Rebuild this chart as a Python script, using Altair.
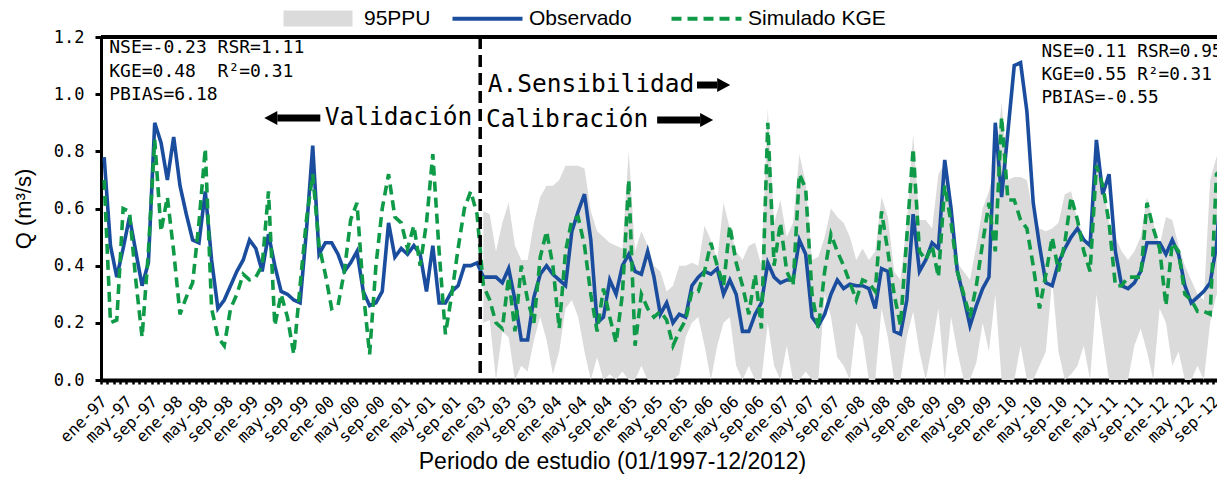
import altair as alt
import pandas as pd

# ---------------- data ----------------
anios = [1997, 1998, 1999, 2000, 2001, 2003, 2004, 2005, 2006, 2007, 2008, 2009, 2010, 2011, 2012]
meses = ["ene", "feb", "mar", "abr", "may", "jun", "jul", "ago", "sep", "oct", "nov", "dic"]
periodos = [f"{m}-{a % 100:02d}" for a in anios for m in meses]
etiquetas = periodos[::4]

observado = [
    0.78, 0.47, 0.36, 0.46, 0.57, 0.45, 0.33, 0.41, 0.90, 0.83,
    0.70, 0.85, 0.68, 0.58, 0.49, 0.48, 0.66, 0.42, 0.25, 0.28,
    0.33, 0.38, 0.42, 0.49, 0.46, 0.38, 0.51, 0.40, 0.31, 0.30,
    0.28, 0.27, 0.52, 0.82, 0.44, 0.48, 0.48, 0.44, 0.38, 0.41,
    0.45, 0.31, 0.26, 0.27, 0.31, 0.55, 0.43, 0.46, 0.44, 0.47,
    0.44, 0.31, 0.47, 0.27, 0.27, 0.31, 0.33, 0.40, 0.40, 0.41,
    0.36, 0.36, 0.36, 0.34, 0.39, 0.28, 0.14, 0.14, 0.29, 0.37,
    0.40, 0.37, 0.35, 0.33, 0.52, 0.59, 0.65, 0.49, 0.20, 0.22,
    0.35, 0.30, 0.40, 0.44, 0.38, 0.37, 0.45, 0.36, 0.23, 0.27,
    0.20, 0.23, 0.22, 0.33, 0.36, 0.38, 0.37, 0.39, 0.30, 0.35,
    0.30, 0.17, 0.17, 0.23, 0.27, 0.41, 0.36, 0.34, 0.35, 0.35,
    0.49, 0.44, 0.22, 0.19, 0.23, 0.30, 0.35, 0.32, 0.335, 0.33,
    0.33, 0.32, 0.25, 0.39, 0.38, 0.17, 0.16, 0.28, 0.58, 0.38,
    0.42, 0.48, 0.46, 0.77, 0.60, 0.38, 0.29, 0.19, 0.26, 0.32,
    0.36, 0.90, 0.64, 0.87, 1.10, 1.11, 0.94, 0.62, 0.47, 0.34,
    0.33, 0.41, 0.46, 0.50, 0.53, 0.49, 0.47, 0.84, 0.65, 0.72,
    0.45, 0.33, 0.32, 0.34, 0.38, 0.48, 0.48, 0.48, 0.44, 0.49,
    0.44, 0.33, 0.27, 0.29, 0.31, 0.34, 0.47, 0.78, 0.45, 0.40,
]

simulado = [
    0.70, 0.20, 0.21, 0.60, 0.59, 0.35, 0.15, 0.45, 0.84, 0.52,
    0.64, 0.45, 0.23, 0.29, 0.34, 0.55, 0.81, 0.25, 0.15, 0.12,
    0.25, 0.30, 0.37, 0.35, 0.36, 0.40, 0.66, 0.19, 0.30, 0.22,
    0.09, 0.33, 0.56, 0.72, 0.47, 0.37, 0.25, 0.26, 0.38, 0.56,
    0.62, 0.31, 0.09, 0.40, 0.60, 0.72, 0.57, 0.55, 0.46, 0.54,
    0.40, 0.55, 0.79, 0.45, 0.16, 0.30, 0.46, 0.60, 0.66, 0.58,
    0.33, 0.28, 0.20, 0.18, 0.36, 0.17, 0.40, 0.28, 0.20, 0.43,
    0.52, 0.40, 0.18, 0.45, 0.56, 0.57, 0.47, 0.30, 0.17, 0.32,
    0.22, 0.13, 0.30, 0.70, 0.12, 0.30, 0.25, 0.22, 0.24, 0.21,
    0.12, 0.17, 0.21, 0.31, 0.31, 0.38, 0.48, 0.40, 0.33, 0.54,
    0.41, 0.33, 0.23, 0.37, 0.18, 0.90, 0.40, 0.55, 0.38, 0.33,
    0.72, 0.67, 0.30, 0.18, 0.38, 0.51, 0.45, 0.40, 0.34, 0.28,
    0.35, 0.34, 0.31, 0.59, 0.45, 0.30, 0.19, 0.50, 0.81, 0.45,
    0.42, 0.47, 0.36, 0.68, 0.55, 0.38, 0.30, 0.22, 0.33, 0.48,
    0.62, 0.45, 0.92, 0.63, 0.63, 0.56, 0.53, 0.40, 0.25, 0.37,
    0.50, 0.38, 0.48, 0.64, 0.56, 0.45, 0.38, 0.75, 0.68, 0.55,
    0.33, 0.33, 0.36, 0.36, 0.36, 0.62, 0.53, 0.46, 0.26, 0.48,
    0.45, 0.30, 0.28, 0.24, 0.24, 0.23, 0.72, 0.74, 0.62, 0.55,
]

# 95PPU band, calibration period only (ene-03 .. dic-12)
ppu_sup = [
    0.59, 0.58, 0.45, 0.55, 0.62, 0.47, 0.42, 0.42, 0.55, 0.64,
    0.68, 0.68, 0.70, 0.75, 0.75, 0.75, 0.74, 0.59, 0.52, 0.50,
    0.48, 0.47, 0.46, 0.80, 0.45, 0.52, 0.47, 0.40, 0.38, 0.31,
    0.33, 0.40, 0.40, 0.41, 0.40, 0.54, 0.49, 0.42, 0.62, 0.53,
    0.45, 0.42, 0.47, 0.48, 0.40, 0.95, 0.55, 0.63, 0.50, 0.55,
    0.79, 0.69, 0.42, 0.43, 0.50, 0.60, 0.57, 0.55, 0.50, 0.42,
    0.46, 0.42, 0.45, 0.64, 0.57, 0.38, 0.35, 0.55, 0.86, 0.56,
    0.56, 0.53, 0.72, 0.76, 0.60, 0.41, 0.38, 0.35, 0.47, 0.60,
    0.66, 0.75, 0.97, 0.70, 0.71, 0.71, 0.70, 0.58, 0.53, 0.52,
    0.53, 0.55, 0.65, 0.66, 0.56, 0.50, 0.47, 0.80, 0.70, 0.55,
    0.50, 0.45, 0.42, 0.45, 0.50, 0.64, 0.55, 0.47, 0.57, 0.56,
    0.47, 0.40, 0.35, 0.30, 0.28, 0.70, 0.78, 0.78, 0.74, 0.70,
]
ppu_inf = [
    0.20, 0.21, 0.00, 0.17, 0.15, 0.00, 0.05, 0.03, 0.14, 0.22,
    0.14, 0.02, 0.10, 0.25, 0.28, 0.22, 0.10, 0.00, 0.08, 0.00,
    0.02, 0.00, 0.03, 0.00, 0.00, 0.05, 0.00, 0.00, 0.00, 0.00,
    0.00, 0.02, 0.15, 0.20, 0.22, 0.12, 0.00, 0.12, 0.20, 0.22,
    0.05, 0.00, 0.05, 0.00, 0.00, 0.20, 0.05, 0.00, 0.12, 0.00,
    0.00, 0.03, 0.00, 0.00, 0.30, 0.22, 0.08, 0.05, 0.00, 0.20,
    0.15, 0.00, 0.00, 0.25, 0.15, 0.00, 0.00, 0.15, 0.24, 0.10,
    0.00, 0.12, 0.25, 0.00, 0.22, 0.10, 0.00, 0.00, 0.06, 0.20,
    0.10, 0.30, 0.00, 0.00, 0.00, 0.12, 0.00, 0.00, 0.05, 0.10,
    0.35, 0.10, 0.00, 0.02, 0.05, 0.12, 0.00, 0.30, 0.15, 0.00,
    0.00, 0.00, 0.00, 0.12, 0.18, 0.10, 0.00, 0.25, 0.20, 0.05,
    0.10, 0.00, 0.00, 0.05, 0.00, 0.20, 0.30, 0.20, 0.05, 0.05,
]

color_banda = "#dcdbdc"
series_lineas = ["Observado", "Simulado KGE"]
colores_lineas = ["#1b4d9e", "#0f9a48"]
trazos_lineas = [[100, 0], [10, 6]]

est_val_texto = ["NSE=-0.23 RSR=1.11", "KGE=0.48 \u00a0R\u00b2=0.31", "PBIAS=6.18"]
est_val_t = [1.3, 1.3, 1.3]
est_val_q = [1.160, 1.078, 0.997]
est_cal_texto = ["NSE=0.11 RSR=0.95", "KGE=0.55 R\u00b2=0.31", "PBIAS=-0.55"]
est_cal_t = [148.8, 148.8, 148.8]
est_cal_q = [1.148, 1.067, 0.987]

fases_texto = ["Validaci\u00f3n", "A.Sensibilidad", "Calibraci\u00f3n"]
fases_t = [35.4, 61.2, 60.9]
fases_q = [0.917, 1.032, 0.910]

# arrows: tail, head base, height, direction
flecha_cola = [34.7, 94.3, 88.0]
flecha_base = [27.9, 97.5, 94.8]
flecha_q = [0.917, 1.032, 0.910]
flecha_dir = ["izq", "der", "der"]

n_cal = 60          # first month of the calibration period (ene-03)
x_max = 176.58      # visible part of the time axis (the figure is cut at the right)

# ---------------- tables ----------------
n = len(periodos)
t = [i + 0.5 for i in range(n)]
lin_df = pd.concat([
    pd.DataFrame({"t": t, "q": observado, "serie": "Observado", "periodo": periodos}),
    pd.DataFrame({"t": t, "q": simulado, "serie": "Simulado KGE", "periodo": periodos}),
])
ppu_df = pd.DataFrame({"t": t[n_cal:], "lo": ppu_inf, "hi": ppu_sup, "serie": "95PPU"})
estv_df = pd.DataFrame({"t": est_val_t, "q": est_val_q, "texto": est_val_texto})
estc_df = pd.DataFrame({"t": est_cal_t, "q": est_cal_q, "texto": est_cal_texto})
fas_df = pd.DataFrame({"t": fases_t, "q": fases_q, "texto": fases_texto})
fle_df = pd.DataFrame({"t0": flecha_cola, "t1": flecha_base, "q": flecha_q, "dir": flecha_dir})

XS = alt.Scale(domain=[0, x_max], nice=False, zero=False)
YS = alt.Scale(domain=[0, 1.2], nice=False)

js_labels = "[" + ",".join(f"'{e}'" for e in etiquetas) + "]"
xaxis = alt.Axis(
    values=list(range(0, 177)), tickCount=400,
    labelExpr=f"datum.value % 4 === 0 ? {js_labels}[datum.value / 4] : ''",
    labelAngle=315, labelFont="DejaVu Sans Mono", labelFontSize=16, labelColor="black",
    labelOverlap=False, labelFlush=False, labelBound=False,
    labelOffset=-3, labelPadding=9,
    tickSize=4, tickWidth=2.5, tickColor="black", domainColor="black", domainWidth=4,
    grid=False, title="Periodo de estudio (01/1997-12/2012)", titleFont="Liberation Sans",
    titleFontSize=23, titleFontWeight="normal", titleColor="black", titlePadding=5, titleX=511,
)
yaxis = alt.Axis(
    values=[round(0.1 * k, 1) for k in range(13)], format=".1f",
    labelFont="DejaVu Sans Mono", labelFontSize=17, labelColor="black", labelPadding=11,
    tickSize=6, tickWidth=3, tickColor="black", domainColor="black", domainWidth=3,
    grid=False, title="Q (m\u00b3/s)", titleFont="Liberation Sans", titleFontSize=22,
    titleFontWeight="normal", titleColor="black", titlePadding=18,
)

RECT = "M-1,-1.6L12.8,-1.6L12.8,1.6L-1,1.6Z"
LINEA = "M-1,0L13,0"
leg_banda = alt.Legend(
    title=None, orient="none", legendX=177, legendY=-29, direction="horizontal",
    labelFont="Liberation Sans", labelFontSize=21, labelColor="black",
    symbolSize=100, symbolType=RECT, symbolStrokeWidth=0, symbolOpacity=1,
    labelOffset=65, padding=0,
)
leg_lineas = alt.Legend(
    title=None, orient="none", legendX=346, legendY=-29, direction="horizontal",
    labelFont="Liberation Sans", labelFontSize=21, labelColor="black",
    symbolSize=100, symbolType=LINEA, symbolStrokeWidth=4, symbolOpacity=1,
    symbolFillColor="transparent", labelOffset=61, columnPadding=31, padding=0,
)

banda = alt.Chart(ppu_df).mark_area(clip=True, opacity=1).encode(
    x=alt.X("t:Q", scale=XS, axis=xaxis),
    y=alt.Y("lo:Q", scale=YS, axis=yaxis),
    y2="hi:Q",
    fill=alt.Fill("serie:N", scale=alt.Scale(domain=["95PPU"], range=[color_banda]), legend=leg_banda),
)
lineas = alt.Chart(lin_df).mark_line(clip=True, strokeWidth=3.6).encode(
    x=alt.X("t:Q", scale=XS), y=alt.Y("q:Q", scale=YS),
    stroke=alt.Stroke("serie:N", scale=alt.Scale(domain=series_lineas, range=colores_lineas),
                      legend=leg_lineas),
    strokeDash=alt.StrokeDash("serie:N", scale=alt.Scale(domain=series_lineas, range=trazos_lineas),
                              legend=leg_lineas),
)
divisor = alt.Chart(pd.DataFrame({"t": [n_cal]})).mark_rule(
    color="black", strokeWidth=3.5, strokeDash=[12, 6]
).encode(x=alt.X("t:Q", scale=XS))
borde_sup = alt.Chart(pd.DataFrame({"q": [1.2]})).mark_rule(
    color="black", strokeWidth=4
).encode(y=alt.Y("q:Q", scale=YS))

estv_txt = alt.Chart(estv_df).mark_text(
    align="left", baseline="middle", font="DejaVu Sans Mono", fontSize=18, color="black", clip=True
).encode(x=alt.X("t:Q", scale=XS), y=alt.Y("q:Q", scale=YS), text="texto:N")
estc_txt = alt.Chart(estc_df).mark_text(
    align="left", baseline="middle", font="DejaVu Sans Mono", fontSize=17.7, color="black", clip=True
).encode(x=alt.X("t:Q", scale=XS), y=alt.Y("q:Q", scale=YS), text="texto:N")
fas_txt = alt.Chart(fas_df).mark_text(
    align="left", baseline="middle", font="DejaVu Sans Mono", fontSize=24.5, color="black", clip=True
).encode(x=alt.X("t:Q", scale=XS), y=alt.Y("q:Q", scale=YS), text="texto:N")

astil = alt.Chart(fle_df).mark_rule(color="black", strokeWidth=7).encode(
    x=alt.X("t0:Q", scale=XS), x2="t1:Q", y=alt.Y("q:Q", scale=YS)
)
punta_der = alt.Chart(fle_df).transform_filter("datum.dir === 'der'").mark_point(
    shape="M0,-1.4L2.6,0L0,1.4Z", size=100, filled=True, color="black", opacity=1, strokeWidth=0
).encode(x=alt.X("t1:Q", scale=XS), y=alt.Y("q:Q", scale=YS))
punta_izq = alt.Chart(fle_df).transform_filter("datum.dir === 'izq'").mark_point(
    shape="M0,-1.4L-2.6,0L0,1.4Z", size=100, filled=True, color="black", opacity=1, strokeWidth=0
).encode(x=alt.X("t1:Q", scale=XS), y=alt.Y("q:Q", scale=YS))

chart = alt.layer(
    banda, lineas, divisor, borde_sup, estv_txt, estc_txt, fas_txt, astil, punta_der, punta_izq
).properties(
    width=1116, height=343,
    autosize=alt.AutoSizeParams(type="none"),
    padding={"left": 93, "top": 29, "right": 0, "bottom": 95},
    background="white",
).configure_view(stroke=None)

chart.save("out.html", embed_options={"renderer": "svg", "actions": False})
